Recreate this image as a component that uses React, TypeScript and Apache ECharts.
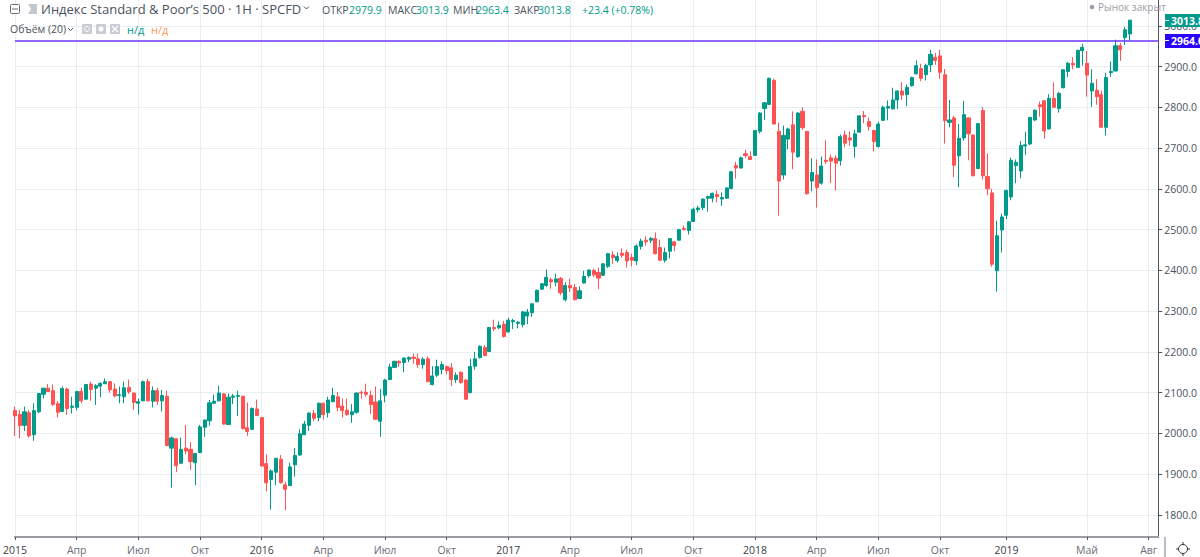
import React, { useEffect, useRef } from "react";
import * as echarts from "echarts";

// weekly candles: [open, close, low, high]
const candles2015 = [
[2056,2043,1994,2066],[2047,2019,1988,2058],[2020,2053,2006,2066],[2051,1994,1990,2057],[1997,2056,1982,2074],[2053,2098,2050,2099],[2096,2111,2086,2112],[2111,2103,2102,2121],[2105,2071,2068,2120],[2073,2052,2039,2080],
[2054,2110,2053,2115],[2109,2061,2046,2113],[2064,2067,2049,2090],[2064,2103,2057,2104],[2103,2080,2074,2112],[2084,2120,2083,2121],[2121,2108,2080,2127],[2111,2117,2070,2121],[2116,2123,2089,2125],[2122,2127,2121,2135],
[2127,2107,2100,2128],[2109,2092,2089,2123],[2093,2095,2074,2115],[2090,2112,2074,2127],[2113,2102,2097,2132],[2099,2076,2058,2100],[2074,2078,2046,2085],[2080,2127,2079,2130],[2127,2080,2079,2134],[2079,2105,2064,2115],
[2105,2079,2070,2112],[2080,2093,2054,2107],[2091,1970,1969,2105],[1964,1989,1867,1993],[1987,1921,1905,1988],[1927,1961,1926,1990],[1964,1957,1949,2021],[1961,1931,1911,1979],[1928,1951,1873,1952],[1953,2016,1952,2021],
[2015,2033,1992,2034],[2031,2075,2019,2082],[2074,2079,2072,2095],[2080,2099,2079,2117],[2097,2023,2021,2099],[2022,2089,2021,2098],[2089,2092,2072,2097],[2091,2093,2043,2105],[2091,2012,2010,2093],[2014,2005,1994,2076],
[2010,2061,2008,2064],[2060,2044,2043,2083],
];
const candles2016 = [
[2039,1920,1919,2040],[1926,1879,1858,1949],[1887,1908,1813,1912],[1905,1939,1873,1940],[1937,1879,1877,1947],[1874,1863,1812,1881],[1872,1918,1871,1928],[1923,1946,1894,1964],[1947,1999,1945,2010],[1997,2023,1996,2031],
[2020,2050,2006,2052],[2049,2037,2030,2058],[2039,2074,2030,2076],[2074,2046,2034,2076],[2051,2082,2039,2090],[2078,2093,2076,2112],[2090,2064,2054,2102],[2067,2056,2039,2086],[2057,2046,2044,2085],[2046,2053,2026,2072],
[2052,2099,2048,2101],[2101,2099,2085,2105],[2101,2096,2090,2122],[2093,2071,2048,2105],[2077,2035,2033,2115],[2030,2080,1992,2109],[2094,2131,2076,2134],[2132,2163,2131,2171],[2162,2177,2161,2178],[2177,2173,2163,2179],
[2174,2185,2150,2186],[2182,2186,2175,2189],[2187,2184,2171,2196],[2183,2169,2161,2196],[2169,2182,2159,2187],[2183,2127,2126,2189],[2120,2141,2118,2165],[2143,2164,2138,2181],[2157,2169,2145,2177],[2164,2154,2145,2167],
[2161,2132,2116,2173],[2132,2143,2124,2150],[2150,2125,2122,2152],[2131,2084,2082,2134],[2100,2164,2099,2183],[2165,2183,2156,2200],[2186,2214,2184,2216],[2211,2191,2189,2217],[2201,2260,2200,2261],[2260,2257,2251,2279],
[2259,2265,2256,2275],[2268,2238,2235,2276],
];
const candles2017 = [
[2249,2278,2247,2284],[2274,2277,2256,2281],[2270,2273,2258,2276],[2267,2298,2260,2301],[2288,2298,2268,2305],[2296,2318,2286,2320],[2323,2351,2322,2353],[2354,2367,2353,2369],[2363,2383,2359,2402],[2377,2372,2355,2382],
[2371,2379,2361,2392],[2380,2345,2339,2384],[2328,2363,2324,2371],[2363,2357,2347,2380],[2358,2328,2327,2367],[2331,2350,2331,2361],[2369,2385,2368,2399],[2387,2401,2382,2402],[2400,2389,2384,2404],[2395,2381,2354,2407],
[2388,2416,2387,2418],[2410,2441,2406,2443],[2438,2431,2416,2447],[2424,2434,2419,2444],[2442,2437,2431,2454],[2444,2423,2407,2451],[2432,2425,2410,2441],[2423,2460,2413,2464],[2459,2472,2451,2478],[2474,2470,2460,2484],
[2474,2478,2467,2482],[2478,2441,2439,2493],[2456,2425,2423,2475],[2425,2444,2419,2456],[2447,2478,2429,2479],[2470,2461,2447,2472],[2474,2500,2473,2501],[2503,2500,2498,2510],[2498,2519,2488,2521],[2520,2550,2519,2554],
[2549,2553,2542,2558],[2554,2575,2548,2576],[2577,2581,2544,2583],[2577,2589,2567,2591],[2586,2581,2567,2596],[2575,2579,2558,2591],[2577,2602,2576,2604],[2601,2642,2599,2644],[2657,2651,2625,2666],[2651,2676,2650,2679],
[2686,2682,2676,2696],[2679,2672,2671,2692],
];
const candles2018 = [
[2682,2743,2681,2744],[2741,2786,2736,2788],[2797,2811,2769,2813],[2807,2871,2806,2873],[2866,2759,2758,2870],[2741,2619,2534,2762],[2634,2731,2623,2755],[2722,2747,2697,2750],[2757,2690,2648,2790],[2679,2786,2676,2788],
[2790,2750,2745,2800],[2741,2588,2586,2741],[2619,2640,2594,2675],[2634,2603,2554,2672],[2614,2656,2610,2679],[2670,2667,2661,2719],[2676,2668,2614,2684],[2675,2663,2596,2682],[2669,2728,2657,2733],[2732,2712,2702,2743],
[2725,2720,2706,2741],[2704,2735,2676,2745],[2739,2779,2738,2780],[2780,2777,2761,2791],[2765,2753,2743,2775],[2743,2716,2692,2745],[2704,2759,2701,2765],[2768,2800,2767,2804],[2798,2802,2768,2817],[2796,2818,2795,2848],
[2818,2840,2796,2841],[2840,2830,2818,2862],[2831,2849,2803,2856],[2853,2873,2851,2875],[2882,2902,2881,2915],[2895,2871,2864,2907],[2880,2903,2866,2907],[2904,2930,2886,2941],[2923,2915,2904,2933],[2926,2886,2870,2941],
[2880,2767,2711,2894],[2763,2769,2751,2818],[2774,2658,2629,2779],[2681,2724,2604,2759],[2725,2782,2718,2816],[2774,2735,2670,2775],[2732,2632,2631,2733],[2650,2760,2648,2761],[2792,2632,2623,2801],[2630,2600,2584,2687],
[2590,2415,2409,2600],[2399,2485,2348,2522],[2499,2531,2444,2539],
];
const candles2019 = [
[2535,2596,2526,2598],[2580,2670,2572,2677],[2657,2665,2614,2672],[2644,2706,2626,2717],[2705,2708,2683,2740],[2710,2775,2707,2777],[2769,2793,2766,2795],[2806,2802,2777,2814],[2816,2742,2723,2818],[2747,2822,2746,2832],
[2822,2800,2799,2861],[2797,2834,2787,2838],[2848,2892,2847,2893],[2888,2908,2874,2911],[2908,2904,2893,2923],[2898,2940,2897,2941],[2939,2947,2902,2956],[2908,2879,2826,2938],[2840,2859,2801,2893],[2842,2826,2806,2869],
[2831,2751,2750,2841],[2751,2873,2731,2885],[2885,2888,2875,2912],[2889,2951,2888,2966],[2951,2941,2914,2958],[2971,2990,2953,2997],[2979.9,3013.8,2963.4,3014.5],
];

const xTickIndex = [0,13,26,39,52,65,78,91,104,117,130,143,156,169,182,195,209,226,239];
const xTickLabels = ["2015","Апр","Июл","Окт","2016","Апр","Июл","Окт","2017","Апр","Июл","Окт","2018","Апр","Июл","Окт","2019","Май","Авг"];
const yTicks = [1800,1900,2000,2100,2200,2300,2400,2500,2600,2700,2800,2900,3000];
const slotCount = 242;
const currentPrice = 2964;

const UP = "#009a8a";
const DOWN = "#ff5252";
const TEXT = "#4c525e";
const FONT = "'Open Sans', sans-serif";

const candles = [...candles2015, ...candles2016, ...candles2017, ...candles2018, ...candles2019];
const categories = Array.from({ length: slotCount }, (_, i) => {
  const k = xTickIndex.indexOf(i);
  return k >= 0 ? xTickLabels[k] : "w" + i;
});
const isTick = (i: number) => xTickIndex.indexOf(i) >= 0;

function label(text: string, x: number, y: number, fill: string, size = 11, extra: any = {}) {
  return {
    type: "text",
    z: 20,
    style: { text, x, y, fill, fontSize: size, fontFamily: FONT, verticalAlign: "middle", align: "left", ...extra },
  };
}

const graphicEls: any[] = [
  // header row 1
  { type: "rect", z: 20, shape: { x: 10.5, y: 4.5, width: 9, height: 9, r: 1 }, style: { fill: "#fff", stroke: "#6a6d78", lineWidth: 1 } },
  { type: "line", z: 20, shape: { x1: 12, y1: 9, x2: 18, y2: 9 }, style: { stroke: "#6a6d78", lineWidth: 1 } },
  { type: "polygon", z: 20, shape: { points: [[28, 4], [37, 4], [37, 14], [28, 14], [31, 9]] }, style: { fill: "#c4c7ce" } },
  label("Индекс Standard & Poor’s 500 · 1H · SPCFD", 41, 9, TEXT, 13),
  { type: "polyline", z: 20, shape: { points: [[304, 6.5], [306.5, 9], [309, 6.5]] }, style: { stroke: TEXT, fill: "none", lineWidth: 1 } },
  label("ОТКР", 322, 10, TEXT, 10.5),
  label("2979.9", 349, 10, UP, 10.5),
  label("МАКС", 388, 10, TEXT, 10.5),
  label("3013.9", 416, 10, UP, 10.5),
  label("МИН", 453, 10, TEXT, 10.5),
  label("2963.4", 476, 10, UP, 10.5),
  label("ЗАКР", 514, 10, TEXT, 10.5),
  label("3013.8", 538, 10, UP, 10.5),
  label("+23.4 (+0.78%)", 582, 10, UP, 10.5),
  // header row 2
  label("Объём (20)", 10, 29, TEXT, 10.5),
  { type: "polyline", z: 20, shape: { points: [[68, 28], [70.5, 30.5], [73, 28]] }, style: { stroke: TEXT, fill: "none", lineWidth: 1 } },
  { type: "rect", z: 20, shape: { x: 82, y: 24, width: 10, height: 10, r: 1 }, style: { fill: "#c9ccd3" } },
  { type: "circle", z: 21, shape: { cx: 87, cy: 29, r: 2.5 }, style: { fill: "#c9ccd3", stroke: "#fff", lineWidth: 1 } },
  { type: "rect", z: 20, shape: { x: 96, y: 24, width: 10, height: 10, r: 1 }, style: { fill: "#c9ccd3" } },
  { type: "circle", z: 21, shape: { cx: 101, cy: 29, r: 2.5 }, style: { fill: "#fff" } },
  { type: "rect", z: 20, shape: { x: 110, y: 24, width: 10, height: 10, r: 1 }, style: { fill: "#c9ccd3" } },
  { type: "line", z: 21, shape: { x1: 112, y1: 26, x2: 118, y2: 32 }, style: { stroke: "#fff", lineWidth: 1.2 } },
  { type: "line", z: 21, shape: { x1: 118, y1: 26, x2: 112, y2: 32 }, style: { stroke: "#fff", lineWidth: 1.2 } },
  label("н/д", 127, 29, UP, 11),
  label("н/д", 151, 29, "#ff9a5c", 11),
  // market status
  { type: "circle", z: 20, shape: { cx: 1092, cy: 7, r: 2.3 }, style: { fill: "#9a9ea8" } },
  label("Рынок закрыт", 1098, 7, "#9a9ea8", 10),
  // price tags
  { type: "rect", z: 22, shape: { x: 1165, y: 14, width: 35, height: 13 }, style: { fill: UP } },
  { type: "line", z: 23, shape: { x1: 1165, y1: 20.5, x2: 1169, y2: 20.5 }, style: { stroke: "#fff", lineWidth: 1 } },
  { ...label("3013.8", 1171, 20.5, "#fff", 10.5, { fontWeight: "bold" }), z: 23 },
  { type: "rect", z: 22, shape: { x: 1165, y: 34, width: 35, height: 14 }, style: { fill: "#2a00ff" } },
  { type: "line", z: 23, shape: { x1: 1165, y1: 40.5, x2: 1169, y2: 40.5 }, style: { stroke: "#fff", lineWidth: 1 } },
  { ...label("2964.0", 1171, 41, "#fff", 10.5, { fontWeight: "bold" }), z: 23 },
  // axis junction and settings icon
  { type: "line", z: 20, shape: { x1: 1165, y1: 537, x2: 1165, y2: 557 }, style: { stroke: "#787b86", lineWidth: 1 } },
  { type: "circle", z: 20, shape: { cx: 1183, cy: 549, r: 4.5 }, style: { fill: "none", stroke: "#333", lineWidth: 1 } },
  { type: "line", z: 20, shape: { x1: 1183, y1: 542, x2: 1183, y2: 544.5 }, style: { stroke: "#333", lineWidth: 1 } },
  { type: "line", z: 20, shape: { x1: 1183, y1: 553.5, x2: 1183, y2: 556 }, style: { stroke: "#333", lineWidth: 1 } },
  { type: "line", z: 20, shape: { x1: 1176, y1: 549, x2: 1178.5, y2: 549 }, style: { stroke: "#333", lineWidth: 1 } },
  { type: "line", z: 20, shape: { x1: 1187.5, y1: 549, x2: 1190, y2: 549 }, style: { stroke: "#333", lineWidth: 1 } },
];

export default function App() {
  const ref = useRef<HTMLDivElement>(null);
  useEffect(() => {
    document.body.style.margin = "0";
    const chart = echarts.init(ref.current!, undefined, { renderer: "svg" });
    chart.setOption({
      animation: false,
      backgroundColor: "#fff",
      grid: { left: 0.6, top: 0, width: 1164.4, height: 537, containLabel: false },
      xAxis: {
        type: "category",
        data: categories,
        boundaryGap: false,
        axisLine: { show: true, lineStyle: { color: "#9a9ca3", width: 2 } },
        axisTick: { show: true, length: 3, interval: (i: number) => isTick(i), lineStyle: { color: "#50535e" } },
        axisLabel: {
          interval: (i: number) => isTick(i),
          margin: 7,
          fontSize: 10.5,
          fontFamily: FONT,
          hideOverlap: false,
          color: (v: string) => (/^\d/.test(v) ? "#3b3e46" : "#6a6d78"),
        },
        splitLine: { show: true, interval: (i: number) => isTick(i), lineStyle: { color: "#e8eff4", width: 1 } },
      },
      yAxis: {
        type: "value",
        position: "right",
        min: 1746,
        max: 3063.2,
        scale: true,
        axisLine: { show: true, lineStyle: { color: "#50535e", width: 1 } },
        axisTick: { show: true, length: 4, customValues: yTicks, lineStyle: { color: "#50535e" } },
        axisLabel: {
          customValues: yTicks,
          margin: 6,
          fontSize: 10.5,
          fontFamily: FONT,
          color: TEXT,
          formatter: (v: number) => v.toFixed(1),
        },
        splitLine: { show: true, lineStyle: { color: "#e8eff4", width: 1 } },
      },
      series: [
        {
          type: "candlestick",
          data: candles,
          barWidth: 3.6,
          itemStyle: { color: UP, color0: DOWN, borderColor: UP, borderColor0: DOWN, borderWidth: 1 },
          markLine: {
            silent: true,
            symbol: "none",
            label: { show: false },
            lineStyle: { color: "#6a35ff", width: 1.5, type: "solid" },
            data: [{ yAxis: currentPrice }],
          },
        },
      ],
      graphic: graphicEls,
    });
    return () => chart.dispose();
  }, []);
  return <div ref={ref} style={{ position: "absolute", left: 0, top: 0, width: 1200, height: 557, overflow: "hidden" }} />;
}
